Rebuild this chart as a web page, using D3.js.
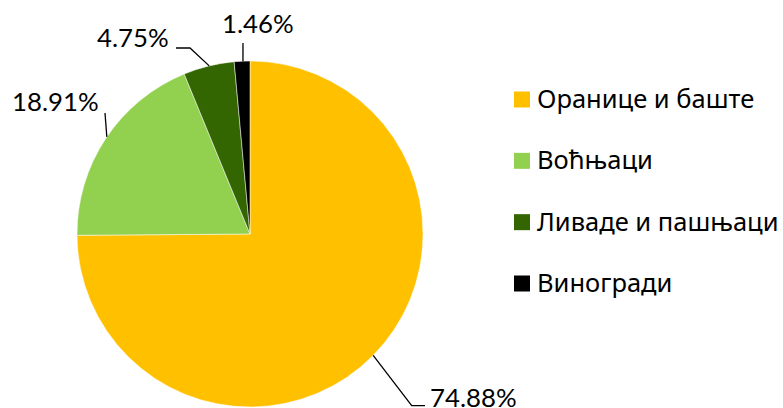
<!DOCTYPE html>
<html><head><meta charset="utf-8">
<script src="https://cdn.jsdelivr.net/npm/d3@7"></script>
<style>html,body{margin:0;padding:0;background:#fff;overflow:hidden}</style>
</head><body>
<svg id="chart" width="783" height="408"></svg>
<script>
const categories = ["Оранице и баште", "Воћњаци", "Ливаде и пашњаци", "Виногради"];
const values = [74.88, 18.91, 4.75, 1.46];
const labels = ["74.88%", "18.91%", "4.75%", "1.46%"];
const colors = ["#FFC000", "#92D050", "#336600", "#000000"];

const svg = d3.select("#chart");
const font = "Lato, 'Noto Sans', sans-serif";
const legendFont = "'Noto Sans', Lato, sans-serif";
const cx = 250, cy = 234, r = 173;

const pie = d3.pie().sort(null).value(d => d)(values);
const arc = d3.arc().innerRadius(0).outerRadius(r);

const g = svg.append("g").attr("transform", `translate(${cx},${cy})`);
g.selectAll("path").data(pie).join("path")
  .attr("d", arc)
  .attr("fill", (d, i) => colors[i])
  .attr("stroke", "#fff").attr("stroke-width", 0.5);

const labelSpec = [
  {pts: [[372.7,355],[411.7,405.7],[425,405.7]], tx: 430, ty: 407},
  {pts: [[107,137],[105,113]], tx: 12, ty: 111},
  {pts: [[209,65],[190,48],[176,48]], tx: 97, ty: 47},
  {pts: [[243,62],[243,43]], tx: 222, ty: 33}
];
// snap first point of each leader to the slice edge
pie.forEach((d, i) => {
  const s = labelSpec[i];
  const p0 = s.pts[0];
  const ang = Math.atan2(p0[0] - cx, -(p0[1] - cy));
  s.pts[0] = [cx + Math.sin(ang) * r, cy - Math.cos(ang) * r];
});
const line = d3.line();
svg.selectAll("path.leader").data(labelSpec).join("path")
  .attr("class", "leader")
  .attr("d", d => line(d.pts))
  .attr("fill", "none").attr("stroke", "#000").attr("stroke-width", 1.3);

svg.selectAll("text.lbl").data(labelSpec).join("text")
  .attr("class", "lbl")
  .attr("x", d => d.tx).attr("y", d => d.ty)
  .attr("font-family", font).attr("font-size", 25.8).attr("fill", "#000")
  .text((d, i) => labels[i]);

// legend
const ly = d3.scalePoint().domain(categories).range([99.5, 283.5]);
const lg = svg.append("g");
lg.selectAll("rect").data(categories).join("rect")
  .attr("x", 514).attr("y", d => ly(d) - 8).attr("width", 16).attr("height", 16)
  .attr("fill", (d, i) => colors[i]);
lg.selectAll("text").data(categories).join("text")
  .attr("x", 537).attr("y", d => ly(d) + 8.5)
  .attr("font-family", legendFont).attr("font-size", 25.5).attr("fill", "#000")
  .text(d => d);
</script>
</body></html>
